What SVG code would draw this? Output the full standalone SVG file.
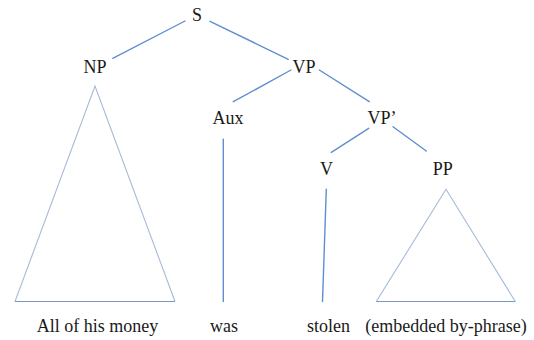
<svg xmlns="http://www.w3.org/2000/svg" width="534" height="340" viewBox="0 0 534 340">
  <style>
    .lbl { font-family: "Liberation Serif", "Times New Roman", serif; font-size: 18px; fill: #1a1a1a; text-anchor: middle; }
    .edge { stroke: #5f8fcf; stroke-width: 1.4; fill: none; stroke-linecap: round; }
    .tri { stroke: #a6bad8; stroke-width: 1.1; fill: none; stroke-linejoin: miter; }
    .base { stroke: #7a98c6; stroke-width: 1.1; fill: none; }
  </style>
  <rect width="534" height="340" fill="#ffffff"/>

  <!-- tree branches -->
  <g id="connectors">
    <line class="edge" x1="185" y1="21" x2="112.7" y2="58.3"/>
    <line class="edge" x1="210" y1="21.3" x2="288.3" y2="59.3"/>
    <line class="edge" x1="291" y1="70" x2="233.3" y2="101.7"/>
    <line class="edge" x1="319.3" y1="70" x2="369.3" y2="101.7"/>
    <line class="edge" x1="368.7" y1="128.3" x2="331.3" y2="152.3"/>
    <line class="edge" x1="393" y1="126.7" x2="426.3" y2="151"/>
    <line class="edge" x1="223.3" y1="139.3" x2="223.3" y2="301.5"/>
    <line class="edge" x1="326.3" y1="189.3" x2="322.5" y2="301.5"/>
  </g>

  <g id="S"><text class="lbl" x="197" y="21">S</text></g>
  <g id="NP">
    <text class="lbl" x="95" y="72.7">NP</text>
    <polyline class="tri" points="15,301.5 95,86 175,301.5"/>
    <line class="base" x1="15" y1="301.5" x2="175" y2="301.5"/>
  </g>
  <g id="VP"><text class="lbl" x="304" y="72.7">VP</text></g>
  <g id="Aux"><text class="lbl" x="228" y="124">Aux</text></g>
  <g id="VPbar"><text class="lbl" x="382" y="124">VP’</text></g>
  <g id="V"><text class="lbl" x="326.5" y="175">V</text></g>
  <g id="PP">
    <text class="lbl" x="442.7" y="175">PP</text>
    <polyline class="tri" points="376.3,301.5 446,189.3 515.3,301.5"/>
    <line class="base" x1="376.3" y1="301.5" x2="515.3" y2="301.5"/>
  </g>

  <!-- terminal strings -->
  <g id="leaves">
    <text class="lbl" x="97.5" y="331.5">All of his money</text>
    <text class="lbl" x="224" y="331.5">was</text>
    <text class="lbl" x="328.5" y="331.5">stolen</text>
    <text class="lbl" x="446" y="331.5">(embedded by-phrase)</text>
  </g>
</svg>
